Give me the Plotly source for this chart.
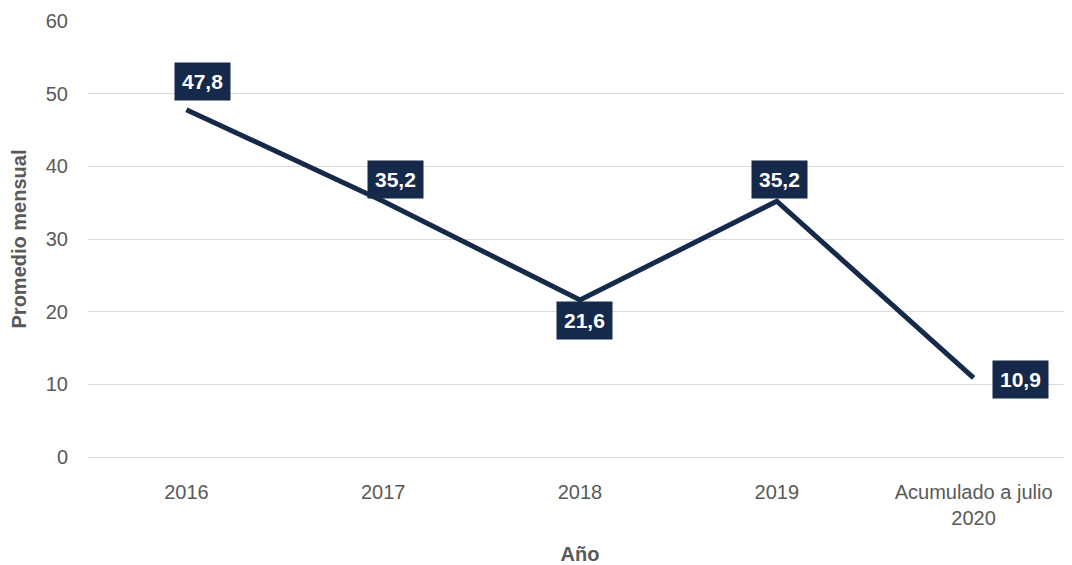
import plotly.graph_objects as go

categories = ["2016", "2017", "2018", "2019", "Acumulado a julio<br>2020"]
values = [47.8, 35.2, 21.6, 35.2, 10.9]
labels = ["47,8", "35,2", "21,6", "35,2", "10,9"]
y_ticks = [0, 10, 20, 30, 40, 50, 60]

navy = "#15294a"
grey = "#595959"
font_family = "Arial, Liberation Sans"

fig = go.Figure()
fig.add_trace(go.Scatter(
    x=categories, y=values, mode="lines",
    line=dict(color=navy, width=5),
    hoverinfo="skip", showlegend=False,
))

# label offsets (pixels): right, down
offsets = [(16, -28), (12, -22), (4, 20), (3, -22), (47, 2)]
for i, (v, lab, (dx, dy)) in enumerate(zip(values, labels, offsets)):
    fig.add_annotation(
        x=i, y=v, text="<b>" + lab + "</b>", showarrow=False,
        xshift=dx, yshift=-dy,
        font=dict(family=font_family, size=21, color="white"),
        bgcolor=navy, borderpad=7,
    )

# the page body has an 8px margin, compensate
fig.update_layout(
    width=1072, height=557,
    margin=dict(l=80, r=8, t=13, b=108),
    plot_bgcolor="white", paper_bgcolor="white",
    font=dict(family=font_family, size=20, color=grey),
    xaxis=dict(
        type="category", automargin=False,
        title=dict(text="<b>Año</b>", font=dict(size=20, color=grey), standoff=28),
        showgrid=False, showline=True, linecolor="#d9d9d9", linewidth=1,
        ticks="", ticklabelstandoff=17, tickfont=dict(size=20, color=grey),
        range=[-0.5, 4.5],
    ),
    yaxis=dict(
        range=[0, 60], tickvals=y_ticks, automargin=False,
        showgrid=True, gridcolor="#d9d9d9", gridwidth=1,
        zeroline=False, showline=False,
        ticks="", ticklen=0, ticklabelstandoff=19,
        tickfont=dict(size=20, color=grey),
        title=dict(text="<b>Promedio mensual</b>", font=dict(size=20, color=grey), standoff=14),
    ),
)

fig.write_html("out.html")
